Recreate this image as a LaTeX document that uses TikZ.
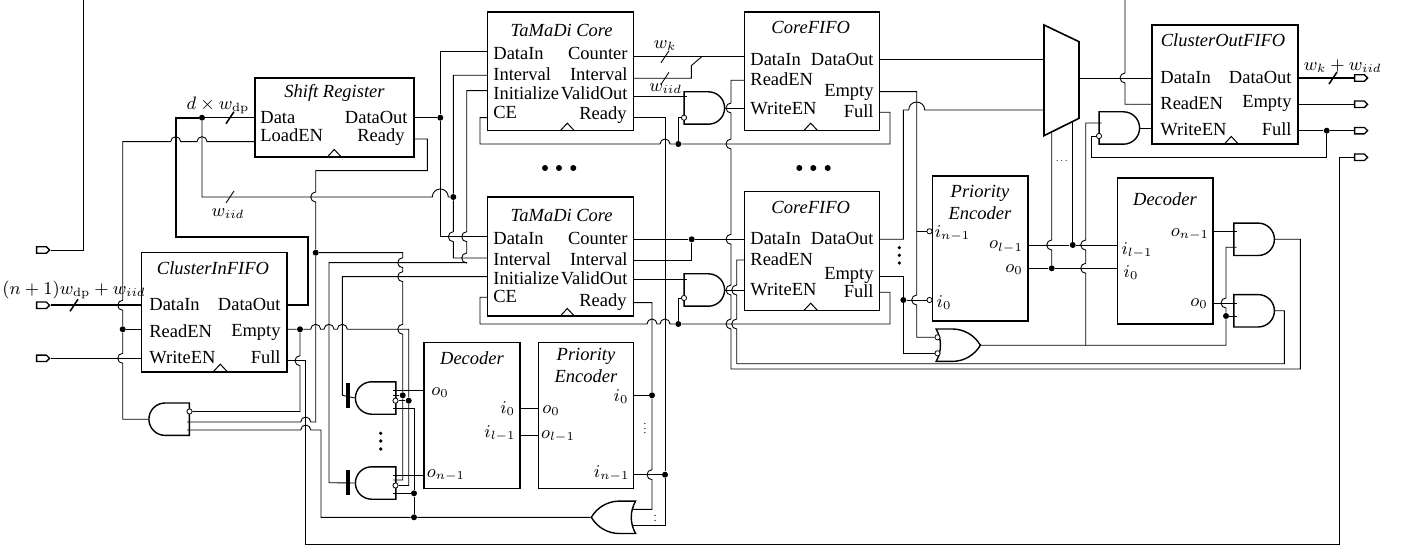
\documentclass[tikz,border=0pt]{standalone}
\usepackage[no-math]{fontspec}
\setmainfont{Liberation Serif}
\usepackage{tikz}
\usetikzlibrary{shapes.gates.logic.US}
\usetikzlibrary{shapes.symbols}

\newcommand{\portfont}{\fontsize{9.25}{11}\selectfont}
% wire hops: right, left, down, up, and a wide one
\newcommand{\hopr}[2]{-- ({#1-5},#2) arc[start angle=180,end angle=360,radius=5]}
\newcommand{\hoprb}[2]{-- ({#1-8},#2) arc[start angle=180,end angle=360,radius=8]}
\newcommand{\hopl}[2]{-- ({#1+5},#2) arc[start angle=0,end angle=-180,radius=5]}
\newcommand{\hopd}[2]{-- (#1,{#2-5}) arc[start angle=270,end angle=90,radius=5]}
\newcommand{\hopu}[2]{-- (#1,{#2+5}) arc[start angle=90,end angle=270,radius=5]}
\newcommand{\clk}[2]{\draw[blockline] ({#1-7},#2) -- (#1,{#2-7.5}) -- ({#1+7},#2);}
\newcommand{\busmark}[3][wire]{\draw[#1] ({#2-4},{#3+6}) -- ({#2+4},{#3-6});}

\begin{document}
\begin{tikzpicture}[x=.5pt, y=-.5pt]
        % ================= styles =================
        \tikzset{
            % boxes
            block/.style={draw=black, line width=.8pt, inner sep=0pt},
            blockline/.style={line width=.5pt, black},
            title/.style={inner sep=0pt, align=center, font=\portfont\itshape},
            % port texts
            portw/.style={inner sep=0pt, anchor=west, text height=6pt, text depth=0pt, font=\portfont},
            porte/.style={inner sep=0pt, anchor=east, text height=6pt, text depth=0pt, font=\portfont},
            mlab/.style={inner sep=0pt, font=\small},
            % connectors
            wire/.style={line width=.45pt, black},
            busm/.style={line width=.75pt, black},
            bus/.style={line width=1.15pt, black},
            jdot/.style={circle, fill=black, inner sep=0pt, minimum size=3pt},
            bub/.style={circle, draw=black, line width=.4pt, fill=white, inner sep=0pt, minimum size=2.6pt},
            % dots between repeated parts
            rdot/.style={circle, fill=black, inner sep=0pt, minimum size=3pt},
            vdot/.style={circle, fill=black, inner sep=0pt, minimum size=1.8pt},
            % gates
            gand/.style={and gate US, draw, line width=.7pt, inner sep=0pt, minimum height=13.5pt, minimum width=16.5pt},
            gor/.style={or gate US, draw, line width=.7pt, inner sep=0pt, minimum height=13.5pt, minimum width=17.7pt},
            pinio/.style={signal, signal to=east, draw, line width=.65pt, fill=white, inner sep=0pt, minimum width=6.5pt, minimum height=3.2pt},
            bar/.style={fill=black, inner sep=0pt, minimum width=2pt, minimum height=12.7pt}
        }
        \useasboundingbox (0,0) rectangle (1401,550);

        % ================= 1. blocks =================
        \node[block, minimum width=79.5pt, minimum height=39.5pt] (sr) at (334.5,117.5) {};
        \node[block, minimum width=72.7pt, minimum height=59.5pt] (cin) at (214,312.2) {};
        \node[block, minimum width=73pt, minimum height=59.35pt] (tu) at (560.3,71.35) {};
        \node[block, minimum width=73pt, minimum height=59.35pt] (tl) at (560.3,256.65) {};
        \node[block, minimum width=67.5pt, minimum height=59.35pt] (cu) at (811.8,71.35) {};
        \node[block, minimum width=67.5pt, minimum height=59.5pt] (cl) at (811.8,251.2) {};
        \node[block, minimum width=73pt, minimum height=59.5pt] (co) at (1224.7,84.5) {};
        \node[block, minimum width=48pt, minimum height=72.8pt] (dl) at (472,415.5) {};
        \node[block, minimum width=47.5pt, minimum height=72.8pt] (pl) at (585.8,415.5) {};
        \node[block, minimum width=47.7pt, minimum height=72.5pt] (pr) at (980,248.5) {};
        \node[block, minimum width=47.7pt, minimum height=73pt] (dr) at (1165,251.3) {};

        % --- the multiplexer ---
        \draw[line width=.8pt] (1044,25) -- (1079,41.7) -- (1079,118.3) -- (1044,135.7) -- cycle;

        % --- clock marks ---
        \clk{334.3}{157} \clk{220.3}{371.7} \clk{567.3}{130.7} \clk{567.3}{316}
        \clk{810.7}{130.7} \clk{810.7}{310.7} \clk{1231.3}{144}

        % ================= 2. texts =================
        \node[title] (t-sr) at (334.5,93) {Shift Register};
        \node[portw] (sr-a) at (260,117.7) {Data};
        \node[portw] (sr-b) at (260,136) {LoadEN};
        \node[porte] (sr-c) at (408,117.7) {DataOut};
        \node[porte] (sr-d) at (405,136) {Ready};

        \node[title] (t-cin) at (213,268) {ClusterInFIFO};
        \node[portw] (cin-a) at (149,305) {DataIn};
        \node[portw] (cin-b) at (149,331) {ReadEN};
        \node[portw] (cin-c) at (149,358) {WriteEN};
        \node[porte] (cin-d) at (281,305) {DataOut};
        \node[porte] (cin-e) at (281,330) {Empty};
        \node[porte] (cin-f) at (281,358) {Full};

        \node[title] (t-tu) at (561.7,30) {TaMaDi Core};
        \node[portw] (tu-a) at (493,54) {DataIn};
        \node[portw] (tu-b) at (493,75) {Interval};
        \node[portw] (tu-c) at (493,93.5) {Initialize};
        \node[portw] (tu-d) at (493,112.5) {CE};
        \node[porte] (tu-e) at (628,54) {Counter};
        \node[porte] (tu-f) at (628,75) {Interval};
        \node[porte] (tu-g) at (628,93.5) {ValidOut};
        \node[porte] (tu-h) at (627,114) {Ready};

        \node[title] (t-tl) at (561.7,215) {TaMaDi Core};
        \node[portw] (tl-a) at (493,239) {DataIn};
        \node[portw] (tl-b) at (493,260) {Interval};
        \node[portw] (tl-c) at (493,278.3) {Initialize};
        \node[portw] (tl-d) at (493,296.7) {CE};
        \node[porte] (tl-e) at (628,239) {Counter};
        \node[porte] (tl-f) at (628,260) {Interval};
        \node[porte] (tl-g) at (628,278.3) {ValidOut};
        \node[porte] (tl-h) at (627,300.7) {Ready};

        \node[title] (t-cu) at (810.7,27) {CoreFIFO};
        \node[portw] (cu-a) at (750,59.7) {DataIn};
        \node[portw] (cu-b) at (750,80) {ReadEN};
        \node[portw] (cu-c) at (750,109) {WriteEN};
        \node[porte] (cu-d) at (874,59.7) {DataOut};
        \node[porte] (cu-e) at (874,91) {Empty};
        \node[porte] (cu-f) at (874,112) {Full};

        \node[title] (t-cl) at (810.7,207) {CoreFIFO};
        \node[portw] (cl-a) at (750,239) {DataIn};
        \node[portw] (cl-b) at (750,259.7) {ReadEN};
        \node[portw] (cl-c) at (750,289.3) {WriteEN};
        \node[porte] (cl-d) at (874,239) {DataOut};
        \node[porte] (cl-e) at (874,274) {Empty};
        \node[porte] (cl-f) at (874,291.7) {Full};

        \node[title] (t-co) at (1223,40) {ClusterOutFIFO};
        \node[portw] (co-a) at (1160,78) {DataIn};
        \node[portw] (co-b) at (1160,104) {ReadEN};
        \node[portw] (co-c) at (1160,130) {WriteEN};
        \node[porte] (co-d) at (1292,78) {DataOut};
        \node[porte] (co-e) at (1292,102) {Empty};
        \node[porte] (co-f) at (1292,130) {Full};

        \node[title] (t-dl) at (472,358) {Decoder};
        \node[title] (t-pl) at (586,365) {Priority\\Encoder};
        \node[title] (t-pr) at (980,202) {Priority\\Encoder};
        \node[title] (t-dr) at (1165,199) {Decoder};

        \node[mlab] (m-a) at (440,393) {$o_0$};
        \node[mlab] (m-b) at (446,475) {$o_{n-1}$};
        \node[mlab] (m-c) at (507.7,409) {$i_0$};
        \node[mlab] (m-d) at (500,433) {$i_{l-1}$};
        \node[mlab] (m-e) at (551,410.7) {$o_0$};
        \node[mlab] (m-f) at (558,436.7) {$o_{l-1}$};
        \node[mlab] (m-g) at (621,396.7) {$i_0$};
        \node[mlab] (m-h) at (611.7,473) {$i_{n-1}$};
        \node[mlab] (m-i) at (952.5,233) {$i_{n-1}$};
        \node[mlab] (m-j) at (944,303) {$i_0$};
        \node[mlab] (m-k) at (1006,247) {$o_{l-1}$};
        \node[mlab] (m-l) at (1014,270) {$o_0$};
        \node[mlab] (m-m) at (1137,250) {$i_{l-1}$};
        \node[mlab] (m-n) at (1131,273) {$i_0$};
        \node[mlab] (m-o) at (1190,234) {$o_{n-1}$};
        \node[mlab] (m-p) at (1199,304) {$o_0$};

        \node[mlab] (l-a) at (218,105) {$d \times w_{\mathrm{dp}}$};
        \node[mlab] (l-b) at (228,214) {$w_{iid}$};
        \node[mlab] (l-c) at (74,290) {$(n+1)w_{\mathrm{dp}}+w_{iid}$};
        \node[mlab] (l-d) at (665,46) {$w_k$};
        \node[mlab] (l-e) at (665.7,89) {$w_{iid}$};
        \node[mlab] (l-f) at (1342.7,66) {$w_k+w_{iid}$};

        % --- dots between repeated parts ---
        \node[rdot] (ra-a) at (545,168) {};
        \node[rdot] (ra-b) at (559,168) {};
        \node[rdot] (ra-c) at (573.3,168) {};
        \node[rdot] (rb-a) at (799.3,168) {};
        \node[rdot] (rb-b) at (813.3,168) {};
        \node[rdot] (rb-c) at (827.7,168) {};
        \node[vdot] (va-a) at (899.3,247.7) {};
        \node[vdot] (va-b) at (899.3,255.3) {};
        \node[vdot] (va-c) at (899.3,263) {};
        \node[vdot] (vb-a) at (380.7,433.3) {};
        \node[vdot] (vb-b) at (380.7,441) {};
        \node[vdot] (vb-c) at (380.7,449) {};
        \node[mlab, scale=.6] (dd-e) at (645,425) {$\vdots$};
        \node[mlab, scale=.6] (dd-f) at (655.3,517.5) {$\vdots$};
        \node[mlab, scale=.55] (dd-g) at (1061.7,161) {$\cdots$};

        % ================= 3. gates and pins =================
        \node[gand, rotate=180] (g-cin) at (170.5,419.2) {};
        \node[gand, rotate=180] (g-nu) at (377,398) {};
        \node[gand, rotate=180] (g-nl) at (377,483) {};
        \node[gand] (g-cu) at (703,108) {};
        \node[gand] (g-cl) at (703,290) {};
        \node[gand] (g-co) at (1118,128) {};
        \node[gand] (g-du) at (1252.8,239.3) {};
        \node[gand] (g-dl) at (1252.8,310.8) {};
        \node[gor, rotate=180] (o-l) at (616.7,517.3) {};
        \node[gor] (o-r) at (955,345.2) {};
        \node[bar] (bar-u) at (347.7,395.3) {};
        \node[bar] (bar-l) at (347.7,482.7) {};

        \node[pinio] (pi-a) at (41.5,250) {};
        \node[pinio] (pi-b) at (41.5,305.3) {};
        \node[pinio] (pi-c) at (41.5,358.3) {};
        \node[pinio] (po-a) at (1359.5,78) {};
        \node[pinio] (po-b) at (1359.5,104.3) {};
        \node[pinio] (po-c) at (1359.5,130.7) {};
        \node[pinio] (po-d) at (1359.5,157.3) {};

        \node[bub] (b-cin) at (189.5,411.5) {};
        \node[bub] (b-nu) at (395.5,400.7) {};
        \node[bub] (b-nl) at (395.5,485.5) {};
        \node[bub] (b-cu) at (684,117.7) {};
        \node[bub] (b-cl) at (684,298) {};
        \node[bub] (b-co) at (1099,136) {};
        \node[bub] (b-pn) at (929.5,231.3) {};
        \node[bub] (b-pz) at (929.5,300) {};
        \node[bub] (b-oa) at (937.5,337.3) {};
        \node[bub] (b-ob) at (937.5,353.3) {};

        % ================= 4. junctions =================
        \node[jdot] (d-bus) at (202,117.7) {};
        \node[jdot] (d-sro) at (440.3,117.7) {};
        \node[jdot] (d-int) at (453.3,197) {};
        \node[jdot] (d-rdy) at (315.7,252.7) {};
        \node[jdot] (d-read) at (122.7,329.3) {};
        \node[jdot] (d-emp) at (300,329.3) {};
        \node[jdot] (d-nu) at (402.7,395.3) {};
        \node[jdot] (d-nv) at (408.7,400.7) {};
        \node[jdot] (d-nl) at (414,493.3) {};
        \node[jdot] (d-or) at (414,517.3) {};
        \node[jdot] (d-ceu) at (678.3,144) {};
        \node[jdot] (d-cel) at (678.3,324) {};
        \node[jdot] (d-cnt) at (691.7,239.3) {};
        \node[jdot] (d-pz) at (652,395.3) {};
        \node[jdot] (d-pn) at (665,474.7) {};
        \node[jdot] (d-fe) at (903.3,300) {};
        \node[jdot] (d-s1) at (1072.7,245) {};
        \node[jdot] (d-s0) at (1051.7,268.3) {};
        \node[jdot] (d-sel) at (1226,316) {};
        \node[jdot] (d-full) at (1326.7,130.7) {};

        % --- free ends and inner joins ---
        \coordinate (top-a) at (83,0);
        \coordinate (top-b) at (1125,0);
        \coordinate (j-cnt) at (701.7,56.7);
        \coordinate (j-pn) at (916.7,231.3);
        \coordinate (j-or) at (1085.7,345.3);

        % ================= 5. wires, left part =================
        \draw[wire] (pi-a) -| (top-a);
        \draw[bus] (pi-b) -- (141.3,305.3);
        \draw[wire] (pi-c) -- (141.3,358.3);
        \draw[wire] (d-read) -- (141.3,329.3);
        \draw[bus] (286.7,305.3) -- (308,305.3) -- (308,236.7) -- (175.7,236.7) -- (175.7,117.7) -- (d-bus);
        \draw[busm] (d-bus) -- (255,117.7);
        \busmark[busm]{230}{117.7}
        \busmark[busm]{74}{305.3}

        % --- LoadEN and the gate below ClusterInFIFO ---
        \draw[wire] (255,141.7) \hopl{202}{141.7} \hopl{175.7}{141.7} -- (122.7,141.7)
            \hopd{122.7}{305.3} -- (d-read) \hopd{122.7}{358.3} -- (122.7,419.2) -- (g-cin.output);
        \draw[wire] (d-bus) -- (202,197) \hoprb{440.3}{197} -- (d-int);
        \busmark{230}{197}

        % --- Ready of the shift register ---
        \draw[wire] (414,139) -- (427.3,139) -- (427.3,170.7) -- (315.7,170.7) \hopd{315.7}{197} -- (d-rdy);
        \draw[wire] (d-rdy) -- (315.7,422) \hopl{305.7}{422} -- (187,422);
        \draw[wire] (d-rdy) -- (402.7,252.7) \hopd{402.7}{262.7} \hopd{402.7}{276.7} \hopd{402.7}{329.3}
            -- (d-nu) -- (402.7,480) -- (393.3,480);
        \draw[wire] (d-nu) -- (393.3,395.3);

        % --- Empty and Full of ClusterInFIFO ---
        \draw[wire] (286.7,329.3) -- (d-emp) \hopr{315.7}{329.3} \hopr{329}{329.3} \hopr{342.3}{329.3}
            -- (408.7,329.3) -- (d-nv) -- (408.7,485.5) -- (b-nl);
        \draw[wire] (d-nv) -- (b-nu);
        \draw[wire] (d-emp) \hopd{300}{360.7} -- (300,411.5) -- (b-cin);
        \draw[wire] (286.7,360.7) -- (305.7,360.7) -- (305.7,544) -- (1339.7,544) -- (1339.7,157.3) -- (po-d);

        % --- gate outputs to Initialize ---
        \draw[wire] (g-nl.output) -- (329,482.7) -- (329,262.7) -- (466.7,262.7)
            \hopu{466.7}{258} \hopu{466.7}{236.7} -- (466.7,90.7) -- (487.3,90.7);
        \draw[wire] (g-nu.output) -- (342.3,395.3) -- (342.3,276.7) -- (487.3,276.7);

        % --- decoder and priority encoder below ---
        \draw[wire] (424,390) -- (393.3,390);
        \draw[wire] (424,475) -- (393.3,475);
        \draw[wire] (393.3,408.5) -- (414,408.5) -- (d-nl) -- (d-or);
        \draw[wire] (393.3,493.3) -- (d-nl);
        \draw[wire] (o-l.output) -- (d-or) -- (321,517.3) -- (321,430) \hopl{305.7}{430} -- (187,430);
        \draw[wire] (520,408.3) -- (538.3,408.3);
        \draw[wire] (520,435) -- (538.3,435);

        % ================= 6. wires, cores =================
        \draw[busm] (414,117.7) -- (d-sro);
        \draw[busm] (487.3,51.7) -- (440.3,51.7) -- (d-sro) -- (440.3,236.7) -- (487.3,236.7);
        \draw[wire] (487.3,75.3) -- (453.3,75.3) -- (d-int) \hopd{453.3}{236.7} -- (453.3,258) -- (487.3,258);

        \draw[wire] (487.3,117.7) -- (480,117.7) -- (480,144) \hopr{665}{144} -- (d-ceu) -- (890,144) -- (890,112.3) -- (879.3,112.3);
        \draw[wire] (487.3,297.3) -- (480,297.3) -- (480,324) \hopr{652}{324} \hopr{665}{324} -- (d-cel) -- (890,324) -- (890,292.3) -- (879.3,292.3);
        \draw[wire] (633.3,117.7) -- (665,117.7) -- (d-pn) -- (665,525) -- (632,525);
        \draw[wire] (633.3,302.7) -- (652,302.7) -- (d-pz) \hopd{652}{474.7} -- (652,509.3) -- (632,509.3);
        \draw[wire] (633.3,395.3) -- (d-pz);
        \draw[wire] (633.3,474.7) -- (d-pn);

        \draw[wire] (633.3,96.7) -- (686.7,96.7);
        \draw[wire] (b-cu) -- (678.3,117.7) -- (d-ceu);
        \draw[wire] (g-cu.output) -- (744.3,108);
        \draw[wire] (633.3,279.3) -- (686.7,279.3);
        \draw[wire] (b-cl) -- (678.3,298) -- (d-cel);
        \draw[wire] (g-cl.output) -- (744.3,290);

        \draw[wire] (633.3,56.7) -- (744.3,56.7);
        \draw[wire] (633.3,78.3) -- (691.3,78.3) -- (691.3,65.7) -- (j-cnt);
        \busmark{665}{56.7}
        \busmark{665}{78.3}
        \draw[wire] (633.3,239.3) -- (d-cnt) -- (744.3,239.3);
        \draw[wire] (633.3,260.3) -- (691.7,260.3) -- (d-cnt);

        % --- ReadEN of both CoreFIFOs ---
        \draw[wire] (744.3,80.3) -- (731,80.3) \hopd{731}{108} \hopd{731}{144} \hopd{731}{239.3} \hopd{731}{290} \hopd{731}{324}
            -- (731,369) -- (1300.3,369) -- (1300.3,239.3) -- (g-du.output);
        \draw[wire] (744.3,260) -- (736.7,260) \hopd{736.7}{290} \hopd{736.7}{324}
            -- (736.7,363.7) -- (1284.3,363.7) -- (1284.3,310.8) -- (g-dl.output);

        % ================= 7. wires, right part =================
        \draw[wire] (879.3,59.7) -- (1044,59.7);
        \draw[wire] (879.3,239.3) -- (903.3,239.3) -- (903.3,110) \hoprb{916.7}{110} -- (1044,110);
        \draw[wire] (879.3,91.7) -- (916.7,91.7) -- (j-pn) \hopd{916.7}{300} -- (916.7,337.3) -- (b-oa);
        \draw[wire] (j-pn) -- (b-pn);
        \draw[wire] (879.3,276.3) -- (903.3,276.3) -- (d-fe) -- (903.3,353.3) -- (b-ob);
        \draw[wire] (d-fe) -- (b-pz);

        \draw[wire] (o-r.output) -- (j-or) -- (1226,345.3) -- (d-sel) \hopu{1226}{303} -- (1226,247.3) -- (1236.7,247.3);
        \draw[wire] (d-sel) -- (1236.7,316);
        \draw[wire] (1212.7,303) -- (1236.7,303);
        \draw[wire] (1212.7,231.7) -- (1236.7,231.7);
        \draw[wire] (j-or) \hopu{1085.7}{268.3} \hopu{1085.7}{245} -- (1085.7,123) -- (1101.7,123);

        \draw[wire] (1051.7,132) \hopd{1051.7}{245} -- (d-s0);
        \draw[wire] (1072.7,121.5) -- (d-s1);
        \draw[wire] (1027.7,245) -- (d-s1) -- (1117.3,245);
        \draw[wire] (1027.7,268.3) -- (d-s0) -- (1117.3,268.3);

        \draw[wire] (g-co.output) -- (1151.7,128);
        \draw[wire] (b-co) -- (1091.3,136) -- (1091.3,157.3) -- (1326.7,157.3) -- (d-full);
        \draw[wire] (1297.7,130.7) -- (d-full) -- (po-c);
        \draw[wire] (1297.7,104.3) -- (po-b);
        \draw[bus] (1297.7,78) -- (po-a);
        \busmark[busm]{1333}{78}
        \draw[wire] (1079,78) -- (1151.7,78);
        \draw[wire] (top-b) \hopd{1125}{78} -- (1125,104.3) -- (1151.7,104.3);

\end{tikzpicture}
\end{document}
